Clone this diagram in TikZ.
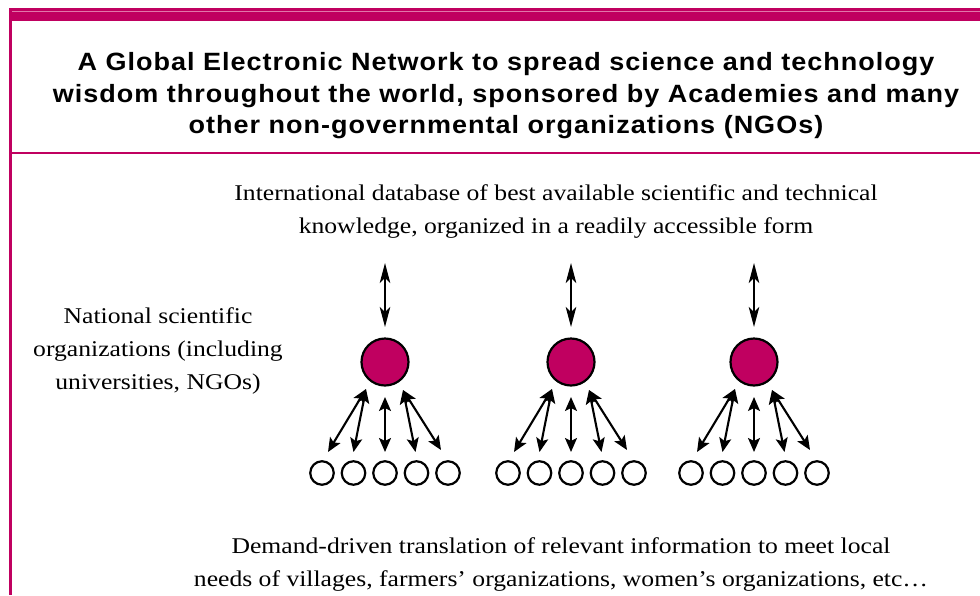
\documentclass[tikz,border=0pt]{standalone}
\usepackage{fontspec}
\setmainfont[FakeStretch=1.14]{Liberation Serif}
\newfontfamily\titlefont[FakeStretch=1.08,LetterSpace=4]{Liberation Sans}
\usetikzlibrary{arrows.meta,calc}
\definecolor{mag}{RGB}{192,0,96}
\definecolor{lightmag}{RGB}{225,120,170}
\begin{document}
\begin{tikzpicture}[x=1pt,y=-1pt,
  hub/.style={circle,draw=black,line width=2.2pt,fill=mag,minimum size=47pt,inner sep=0pt},
  leaf/.style={circle,draw=black,line width=2.2pt,fill=white,minimum size=23.5pt,inner sep=0pt},
  link/.style={line width=2.1pt,{Stealth[length=14pt,width=12pt,inset=3pt]}-{Stealth[length=14pt,width=12pt,inset=3pt]}},
  uplink/.style={line width=2.1pt,{Stealth[length=20pt,width=10.5pt,inset=5pt]}-{Stealth[length=20pt,width=10.5pt,inset=5pt]}},
  body/.style={font=\fontsize{22.5}{33}\selectfont,align=center,inner sep=0pt},
  titletext/.style={font=\titlefont\bfseries\fontsize{25}{31.5}\selectfont,align=center,inner sep=0pt}]
\useasboundingbox (0,0) rectangle (980,595);
% frame
\fill[mag] (9,8) rectangle (980,21);
\draw[lightmag,line width=0.7pt] (12,11) -- (980,11);
\fill[mag] (9,8) rectangle (12,595);
\fill[mag] (10,151.5) rectangle (980,154);
% title
\node[titletext] (title) at (506,96) {A Global Electronic Network to spread science and technology\\wisdom throughout the world, sponsored by Academies and many\\other non-governmental organizations (NGOs)};
% texts
\node[body] (db) at (556,212) {International database of best available scientific and technical\\knowledge, organized in a readily accessible form};
\node[body] (nat) at (158,351) {National scientific\\organizations (including\\universities, NGOs)};
\node[body] (dem) at (561,564) {Demand-driven translation of relevant information to meet local\\needs of villages, farmers’ organizations, women’s organizations, etc…};
% groups
\foreach \g/\cx in {1/385,2/571,3/754}{
  \node[hub] (h\g) at (\cx,362) {};
  \coordinate (ta\g) at ($(h\g)+(0,-99)$);
  \coordinate (tb\g) at ($(h\g)+(0,-35)$);
  \draw[uplink] (ta\g) -- (tb\g);
  \foreach \i/\dx in {1/-63,2/-31.5,3/0,4/31.5,5/63}{
    \node[leaf] (l\g\i) at (\cx+\dx,473) {};
  }
  \coordinate (sL\g) at ($(h\g)+(-19,27)$);
  \coordinate (sC\g) at ($(h\g)+(0,35)$);
  \coordinate (sR\g) at ($(h\g)+(18,28)$);
  \draw[link] (sL\g) -- ($(l\g1)+(6,-21)$);
  \draw[link] (sL\g) -- ($(l\g2)+(0,-21)$);
  \draw[link] (sC\g) -- ($(l\g3)+(0,-21)$);
  \draw[link] (sR\g) -- ($(l\g4)+(-1,-21)$);
  \draw[link] (sR\g) -- ($(l\g5)+(-7,-23)$);
}
\end{tikzpicture}
\end{document}
